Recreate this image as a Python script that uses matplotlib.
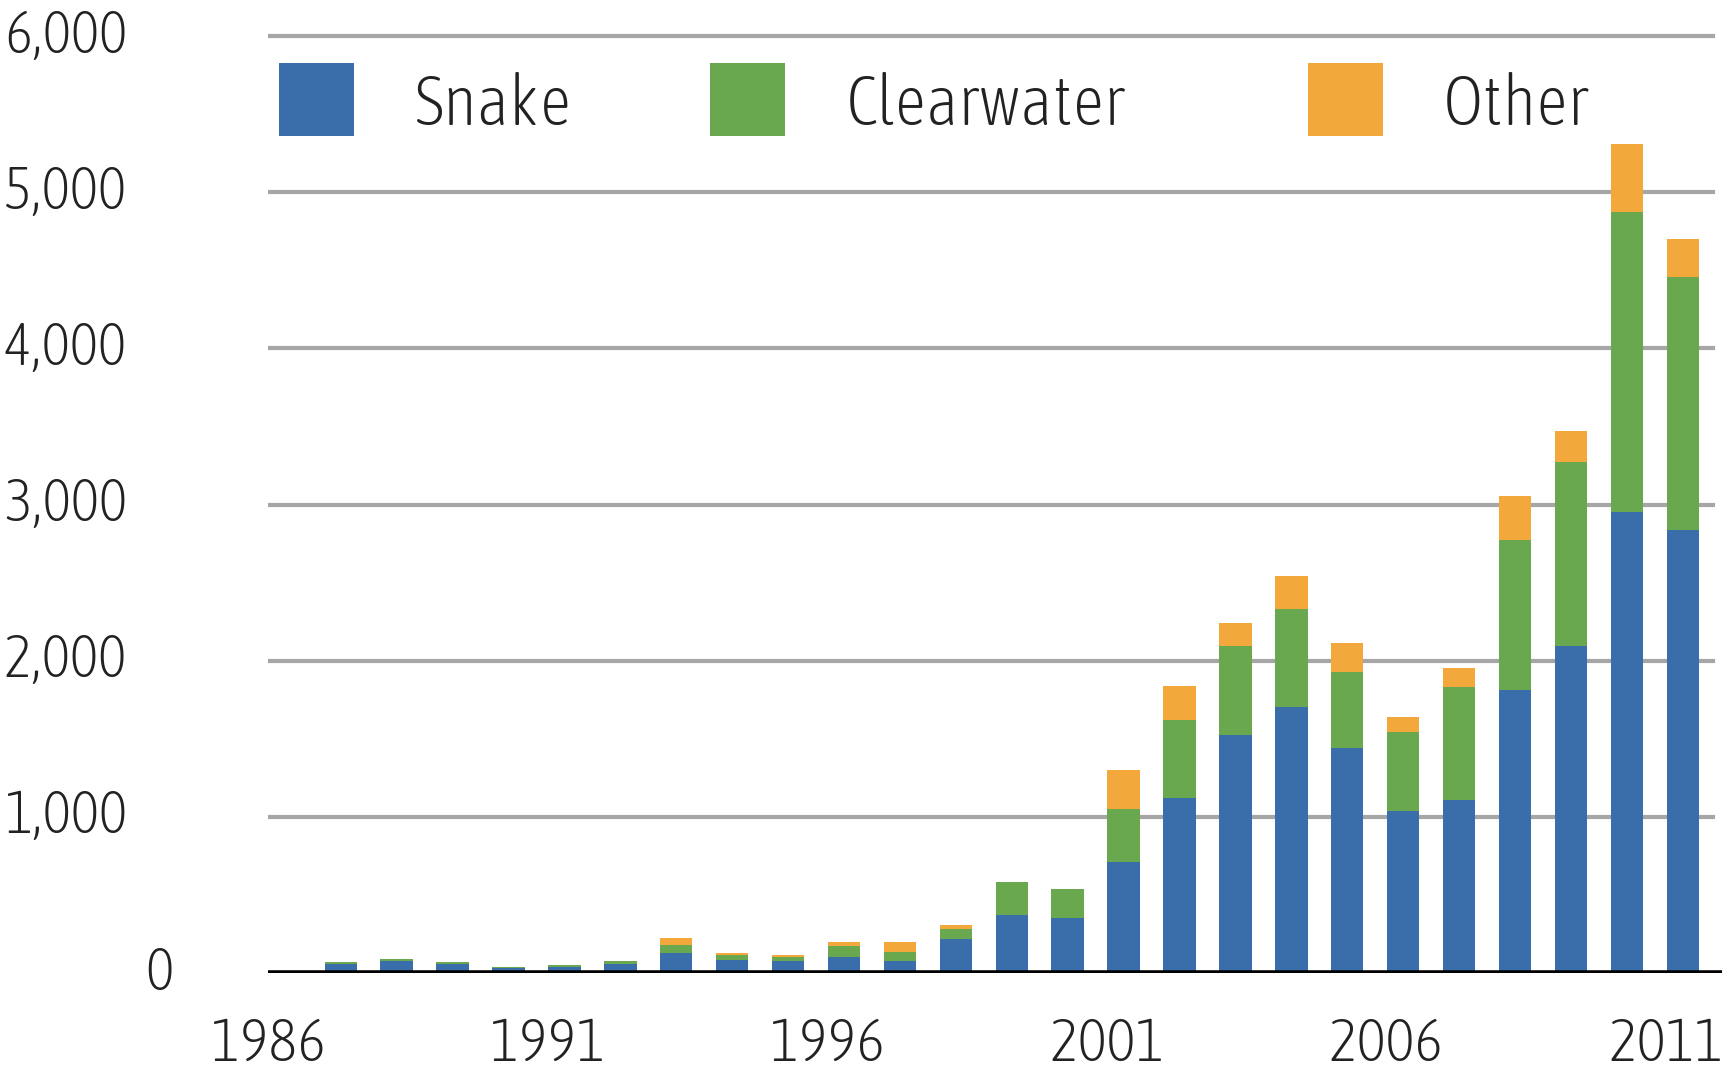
import numpy as np
import matplotlib
matplotlib.use("Agg")
import matplotlib.pyplot as plt
from matplotlib.patches import Rectangle
from matplotlib.transforms import blended_transform_factory

plt.rcParams["font.family"] = ["Asap Condensed", "DejaVu Sans"]
plt.rcParams["font.weight"] = 200

# data
years = list(range(1987, 2012))
snake = [60, 80, 55, 35, 40, 55, 130, 85, 75, 100, 80, 215, 370, 355,
         710, 1120, 1525, 1705, 1440, 1035, 1110, 1815, 2095, 2950, 2835]
clearwater = [10, 10, 15, 5, 10, 25, 50, 30, 25, 75, 55, 70, 210, 180,
              340, 500, 570, 625, 485, 510, 720, 960, 1180, 1925, 1620]
other = [0, 0, 0, 0, 0, 0, 45, 15, 15, 25, 65, 25, 5, 0,
         250, 220, 145, 210, 190, 95, 125, 280, 195, 435, 245]

series_names = ["Snake", "Clearwater", "Other"]
series_colors = ["#3a6eaa", "#6aa84f", "#f3a83b"]

x_tick_years = [1986, 1991, 1996, 2001, 2006, 2011]
y_ticks = [0, 1000, 2000, 3000, 4000, 5000, 6000]

text_color = "#222222"
bar_offset = 0.3  # bars sit a bit right of the year labels in the original

fig = plt.figure(figsize=(17.34, 10.76), dpi=100)
ax = fig.add_axes([0.1546, 0.0957, 0.8384, 0.8736])

x = np.array(years) + bar_offset
bottom = np.zeros(len(years))
for name, vals, color in zip(series_names, [snake, clearwater, other], series_colors):
    ax.bar(x, vals, width=0.58, bottom=bottom, color=color, label=name, zorder=3)
    bottom += np.array(vals)

ax.set_xlim(1986, 2012)
ax.set_ylim(0, 6020)

for v in y_ticks[1:]:
    ax.axhline(v, xmin=0, xmax=0.994, color="#a6a6a6", lw=3, zorder=1)
ax.axhline(0, color="black", lw=4, zorder=4)

for s in ax.spines.values():
    s.set_visible(False)

ax.set_xticks(x_tick_years)
ax.set_xticklabels([str(y) for y in x_tick_years])
ax.tick_params(axis="x", length=0, pad=30, labelsize=44, labelcolor=text_color)
ax.set_yticks([])

# y labels drawn by hand: the "0" sits further right than the others
trans = blended_transform_factory(ax.transAxes, ax.transData)
for v in y_ticks:
    if v == 0:
        ax.text(-0.065, v, "0", transform=trans, ha="right", va="center",
                fontsize=43, color=text_color)
    else:
        ax.text(-0.097, v, "{:,}".format(v), transform=trans, ha="right",
                va="center", fontsize=43, color=text_color)

# legend across the top
legend_sq = [0.0076, 0.304, 0.715]
legend_txt = [0.101, 0.3975, 0.808]
for name, color, sx, tx in zip(series_names, series_colors, legend_sq, legend_txt):
    ax.add_patch(Rectangle((sx, 0.890), 0.0516, 0.078, transform=ax.transAxes,
                           facecolor=color, edgecolor="none", zorder=5, clip_on=False))
    ax.text(tx, 0.922, name, transform=ax.transAxes, ha="left", va="center",
            fontsize=50, color=text_color)

fig.savefig("out.png", dpi=100, facecolor="white")
